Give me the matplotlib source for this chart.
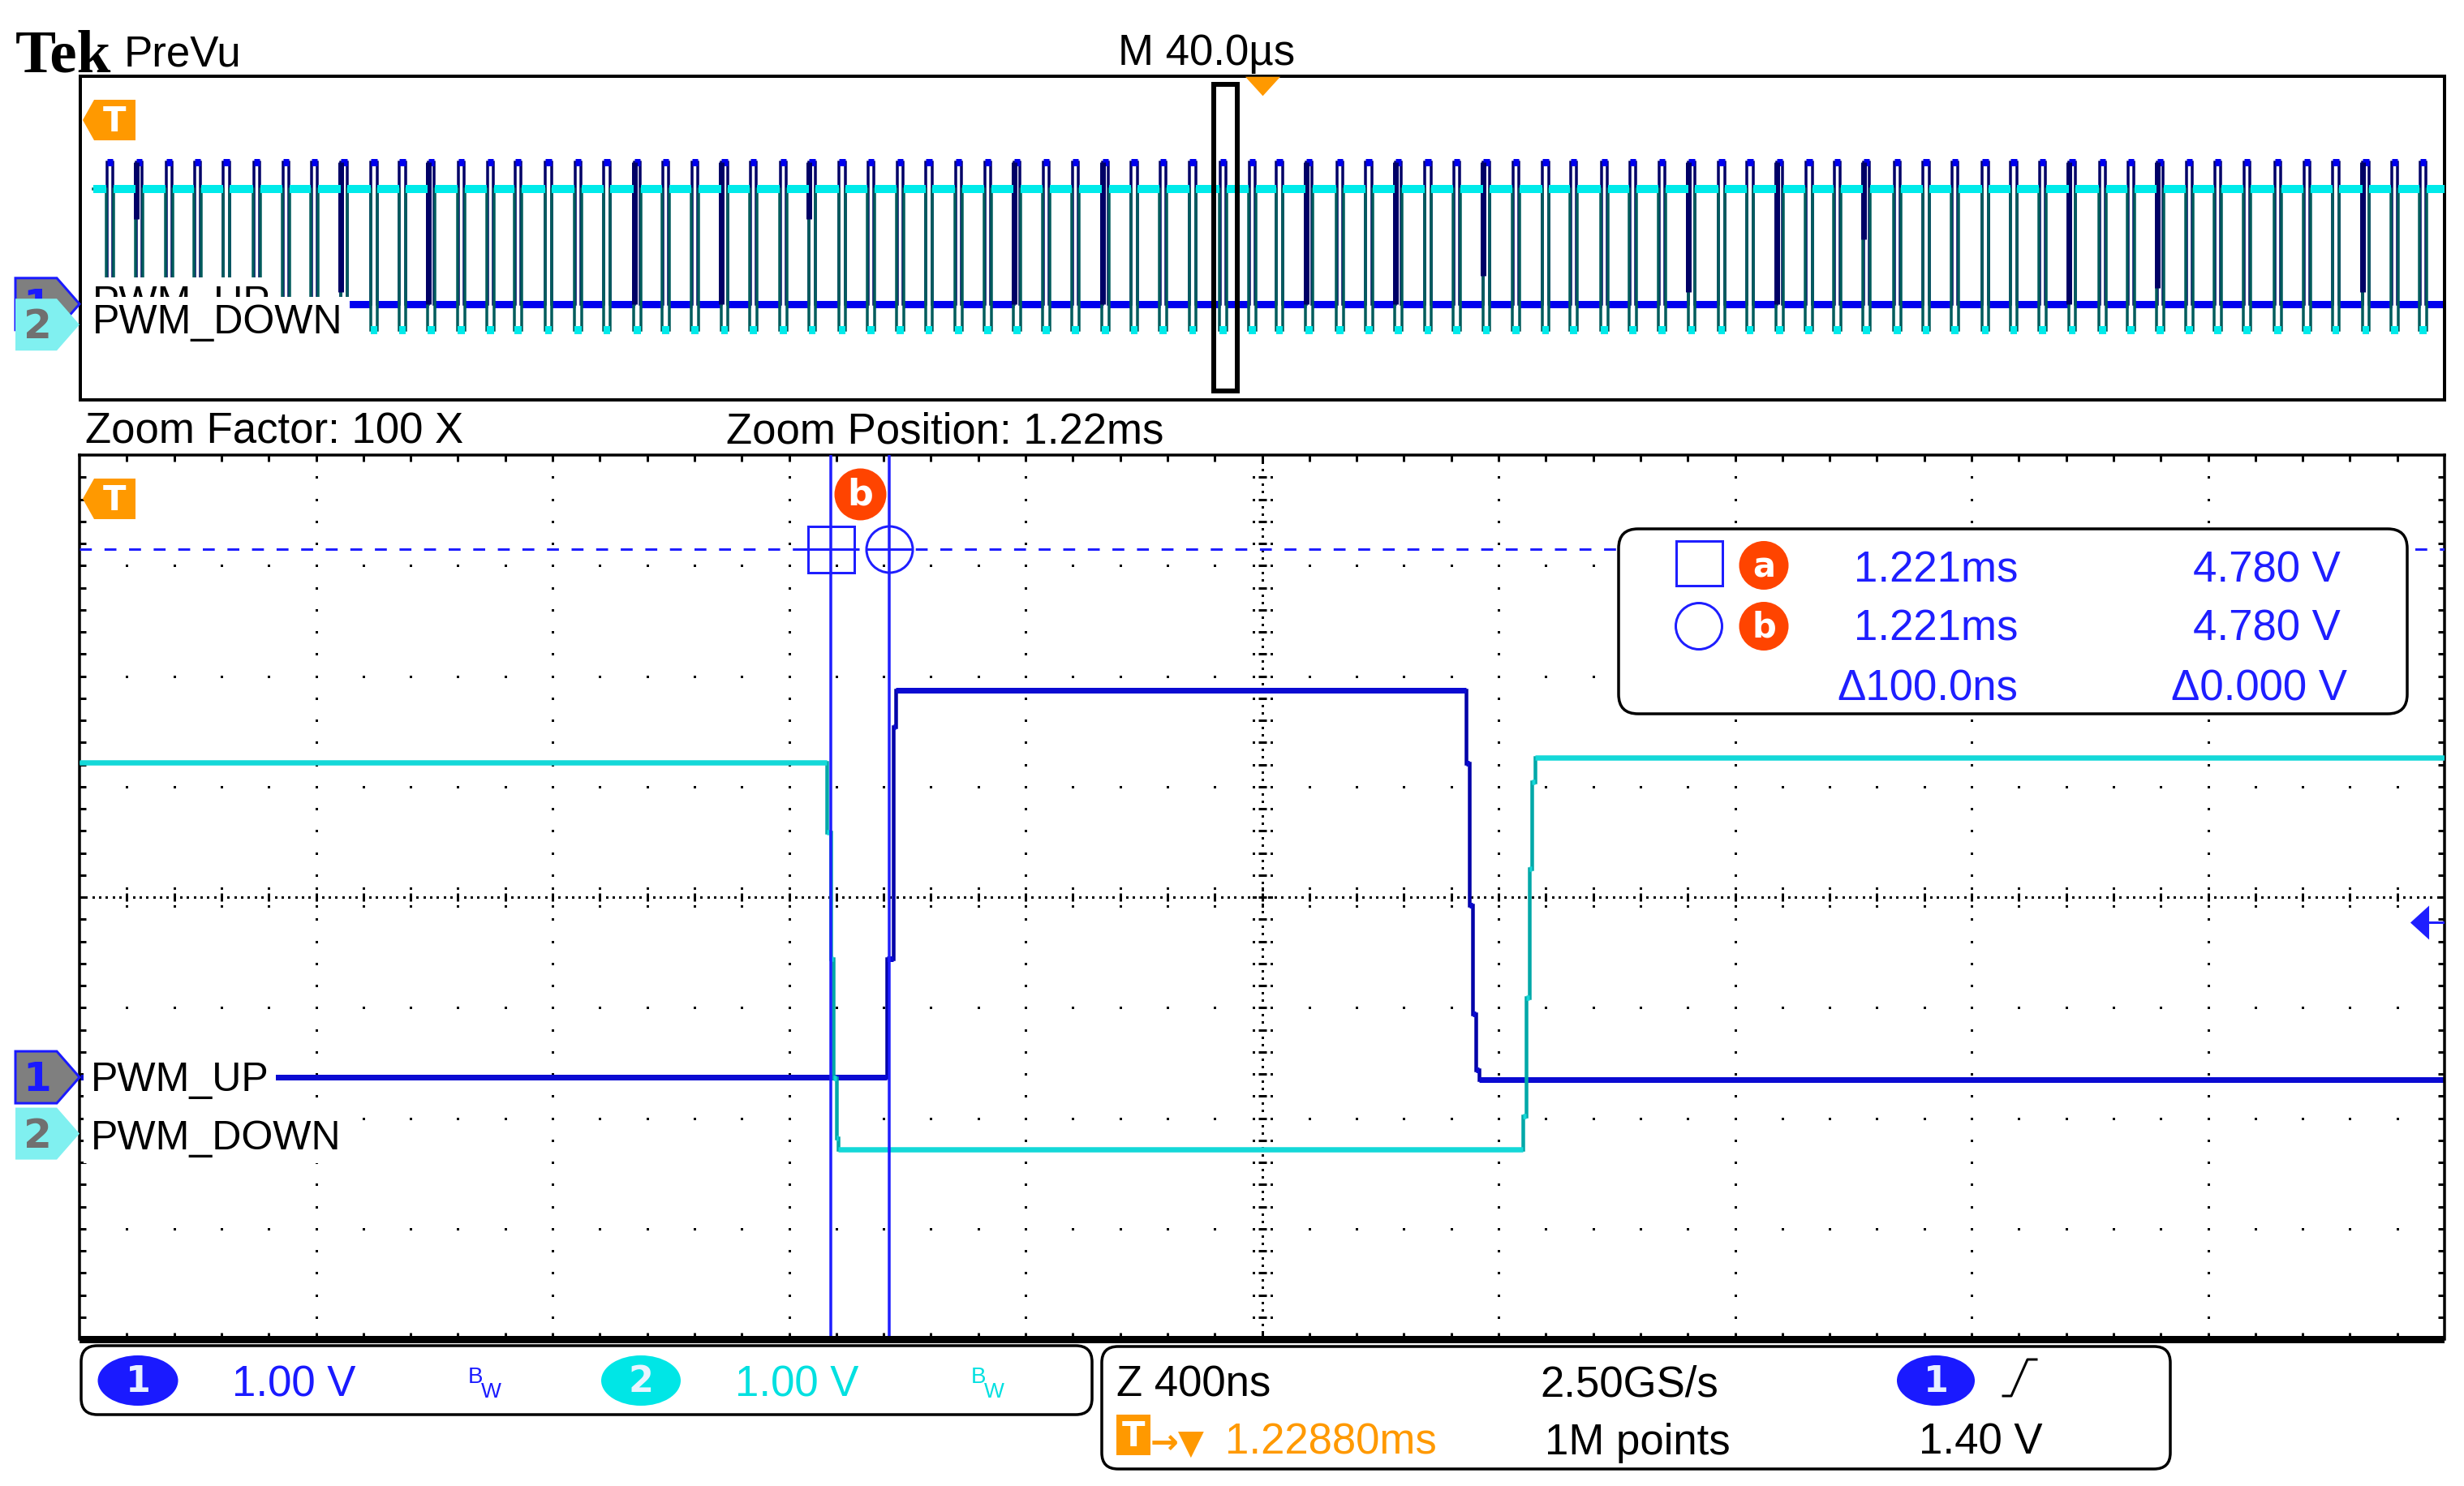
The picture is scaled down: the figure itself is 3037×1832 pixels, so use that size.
import numpy as np
import matplotlib
matplotlib.use("Agg")
import matplotlib.pyplot as plt
import matplotlib.transforms as mtransforms
from matplotlib.patches import Polygon, Rectangle, Ellipse, FancyBboxPatch
from matplotlib.collections import LineCollection

# ---------------- values ----------------
# zoom window (Z 400ns/div): time in ns from left edge, level in volts
UP_T = [0, 1365, 1365, 1376, 1376, 1380, 1380, 2345, 2345, 2351, 2351,
        2356, 2356, 2362, 2362, 2367, 2367, 4000]
UP_V = [0.0, 0.0, 1.07, 1.07, 3.17, 3.17, 3.50, 3.50, 2.84, 2.84, 1.56,
        1.56, 0.57, 0.57, 0.07, 0.07, -0.02, -0.02]
DOWN_T = [0, 1264, 1264, 1270, 1270, 1275, 1275, 1280, 1280, 1283, 1283,
          2441, 2441, 2447, 2447, 2452, 2452, 2456, 2456, 2462, 2462, 4000]
DOWN_V = [3.36, 3.36, 2.73, 2.73, 1.58, 1.58, 0.50, 0.50, -0.04, -0.04, -0.14,
          -0.14, 0.16, 0.16, 1.23, 1.23, 2.40, 2.40, 3.18, 3.18, 3.40, 3.40]

UP_GND = 2.37      # ground marker position, divisions from bottom
DOWN_GND = 1.86
CURSOR_T = [1270, 1370]   # ns
CURSOR_V = 4.78           # V on ch1
TRIG_LEVEL = 1.40         # V on ch1

# overview record (M 40.0us/div): pulse centres in us
PULSES_US = [5.0, 10.0, 15.0, 19.8, 24.7, 29.9, 34.8, 39.6, 44.6, 49.7,
             54.5, 59.4, 64.4, 69.4, 74.1, 79.2, 84.2, 89.1, 94.2, 99.0,
             104.0, 109.0, 113.9, 118.9, 123.8, 128.9, 133.8, 138.7, 143.6, 148.6,
             153.5, 158.5, 163.4, 168.4, 173.4, 178.3, 183.2, 188.2, 193.3, 198.3,
             202.9, 207.9, 213.1, 218.0, 223.0, 228.0, 232.9, 237.9, 242.9, 247.9,
             252.6, 257.9, 262.7, 267.6, 272.6, 277.7, 282.5, 287.5, 292.5, 297.3,
             302.2, 307.4, 312.3, 317.2, 322.3, 327.1, 332.0, 337.0, 342.1, 346.9,
             351.9, 356.8, 361.6, 366.6, 371.8, 376.7, 381.6, 386.7, 391.6, 396.4]
UP_EDGES = (-0.5, 0.5)        # us around pulse centre
DOWN_EDGES = (-0.6, 0.6)
UP_LEVELS = (0.0, 3.5)        # idle, pulse
DOWN_LEVELS = (3.36, -0.14)
OV_START, OV_END = 2.2, 400.0
# dark persistence streaks under some pulses (pulse index, lowest level in V)
STREAK_IDX = [1, 8, 11, 18, 21, 24, 31, 34, 41, 44, 47, 54, 57, 60, 67, 70, 77]
STREAK_END = [2.1, 0.3, 0.0, 0.0, 0.0, 2.1, 0.0, 0.0, 0.0, 0.0, 0.7, 0.3,
              0.0, 1.6, 0.0, 0.4, 0.3]
ZOOM_START_US, ZOOM_WIDTH_US = 191.8, 4.0
TRIG_POS_US = 200.0

READOUT = [("1.221ms", "4.780 V"), ("1.221ms", "4.780 V"), ("Δ100.0ns", "Δ0.000 V")]

# ---------------- style ----------------
W, H, DPI = 3037, 1833, 100
PX = 72 / DPI
FS = 38
FS_LABEL = 36

CH1, CH1_DARK = "#0a0ad2", "#0000a8"
CH2, CH2_DARK = "#14d8d8", "#00a8a8"
OV1, OV1_DARK = "#0000ee", "#000066"
OV2, OV2_DARK = "#00eaea", "#005c5c"
CURSOR = "#1e1eff"
CH1_TXT, CH2_TXT = "#1a1aff", "#00e0e0"
ORANGE = "#ff9900"
RED = "#ff4400"

plt.rcParams['font.family'] = ['Liberation Sans', 'DejaVu Sans']

MAIN_L, MAIN_T, MAIN_R, MAIN_B = 98, 562, 3013, 1652
OV_L, OV_T, OV_R, OV_B = 99, 95, 3013, 494

fig = plt.figure(figsize=(W / DPI, H / DPI), dpi=DPI)
fig.patch.set_facecolor("white")


def px_axes(l, t, r, b, **kw):
    return fig.add_axes([l / W, 1 - b / H, (r - l) / W, (b - t) / H], **kw)


def main_y(div):
    return MAIN_B - div * (MAIN_B - MAIN_T) / 8


def ov_y(div):
    return OV_B - div * (OV_B - OV_T) / 8


def draw_trace(ax, t, v, gnd, bright, dark, lw_b, lw_d, z):
    t = np.asarray(t, float)
    y = np.asarray(v, float) + gnd
    ax.plot(t, y, color=dark, lw=lw_d * PX, zorder=z, solid_joinstyle="miter")
    flat = [[(t[i], y[i]), (t[i + 1], y[i + 1])] for i in range(len(t) - 1)
            if y[i] == y[i + 1] and t[i + 1] > t[i]]
    ax.add_collection(LineCollection(flat, colors=bright, linewidths=lw_b * PX,
                                     capstyle="butt", zorder=z + 0.1))


def pulse_train(centres, edges, levels):
    idle, pulse = levels
    t, v = [OV_START], [idle]
    for c in centres:
        t += [c + edges[0], c + edges[0], c + edges[1], c + edges[1]]
        v += [idle, pulse, pulse, idle]
    t.append(OV_END)
    v.append(idle)
    return t, v


def graticule(ax, nx=10, ny=8, sub=5):
    tr = ax.transAxes
    pxx, pxy = 1 / (MAIN_R - MAIN_L), 1 / (MAIN_B - MAIN_T)
    dx, dy = [], []
    for i in range(1, nx):
        if i != nx // 2:
            for k in range(1, ny * sub):
                dx.append(i / nx)
                dy.append(k / (ny * sub))
    for j in range(1, ny):
        if j != ny // 2:
            for k in range(1, nx * sub):
                dx.append(k / (nx * sub))
                dy.append(j / ny)
    for k in range(nx * sub * 7):
        dx.append(k / (nx * sub * 7))
        dy.append(0.5)
    for k in range(ny * sub * 3):
        dx.append(0.5)
        dy.append(k / (ny * sub * 3))
    segs = []
    for k in range(1, nx * sub):
        x = k / (nx * sub)
        segs.append([(x, 0.5 - 5 * pxy), (x, 0.5 + 5 * pxy)])
        dx += [x, x]
        dy += [0.5 - 11 * pxy, 0.5 + 11 * pxy]
        segs.append([(x, 0), (x, 8 * pxy)])
        segs.append([(x, 1), (x, 1 - 8 * pxy)])
    for k in range(1, ny * sub):
        y = k / (ny * sub)
        segs.append([(0.5 - 5 * pxx, y), (0.5 + 5 * pxx, y)])
        dx += [0.5 - 11 * pxx, 0.5 + 11 * pxx]
        dy += [y, y]
        segs.append([(0, y), (8 * pxx, y)])
        segs.append([(1, y), (1 - 8 * pxx, y)])
    ax.scatter(dx, dy, s=(3 * PX) ** 2, marker="s", c="k", linewidths=0,
               transform=tr, zorder=1)
    ax.add_collection(LineCollection(segs, colors="k", linewidths=3 * PX,
                                     transform=tr, zorder=1), autolim=False)


def bare(ax, lw):
    ax.set_xticks([])
    ax.set_yticks([])
    for s in ax.spines.values():
        s.set_linewidth(lw * PX)
        s.set_color("black")


# ---------------- overview window ----------------
ov = px_axes(OV_L, OV_T, OV_R, OV_B)
ov.set_xlim(0, 400)
ov.set_ylim(0, 8)
bare(ov, 4)

t1, v1 = pulse_train(PULSES_US, UP_EDGES, UP_LEVELS)
t2, v2 = pulse_train(PULSES_US, DOWN_EDGES, DOWN_LEVELS)
draw_trace(ov, t1, v1, UP_GND, OV1, OV1_DARK, 9, 3.5, 2)
draw_trace(ov, t2, v2, DOWN_GND, OV2, OV2_DARK, 10, 3.5, 3)
sx = [PULSES_US[i] + UP_EDGES[0] for i in STREAK_IDX]
ov.vlines(sx, [e + UP_GND for e in STREAK_END], UP_LEVELS[1] + UP_GND,
          colors=OV1_DARK, linewidths=7 * PX, zorder=3.05)

blend_ov = mtransforms.blended_transform_factory(ov.transData, ov.transAxes)
ov.add_patch(Rectangle((ZOOM_START_US, 0.028), ZOOM_WIDTH_US, 0.947,
                       transform=blend_ov, fill=False, ec="black",
                       lw=6 * PX, zorder=6))
ov.plot([TRIG_POS_US], [0.971], transform=blend_ov, ls="none",
        marker=[(-1, 0.55), (1, 0.55), (0, -0.55)], ms=43 * PX,
        color=ORANGE, mec="none", zorder=7, clip_on=False)

# ---------------- zoomed window ----------------
ax = px_axes(MAIN_L, MAIN_T, MAIN_R, MAIN_B)
ax.set_xlim(0, 4000)
ax.set_ylim(0, 8)
bare(ax, 3.5)
ax.spines["bottom"].set_visible(False)
graticule(ax)

draw_trace(ax, UP_T, UP_V, UP_GND, CH1, CH1_DARK, 7, 4.5, 2)
draw_trace(ax, DOWN_T, DOWN_V, DOWN_GND, CH2, CH2_DARK, 6.5, 4.5, 3)

cy = CURSOR_V + UP_GND
for ct in CURSOR_T:
    ax.axvline(ct, color=CURSOR, lw=3.5 * PX, zorder=5)
ax.axhline(cy, color=CURSOR, lw=3 * PX, ls=(0, (4.9, 5.2)), zorder=5)
ax.plot([CURSOR_T[0]], [cy], marker="s", ms=57 * PX, mfc="none",
        mec=CURSOR, mew=3 * PX, zorder=6)
ax.plot([CURSOR_T[0]], [cy], marker="_", ms=70 * PX, mec=CURSOR,
        mew=3 * PX, zorder=6)
ax.plot([CURSOR_T[1]], [cy], marker="o", ms=57 * PX, mfc="none",
        mec=CURSOR, mew=3 * PX, zorder=6)
ax.plot([CURSOR_T[1]], [cy], marker="_", ms=57 * PX, mec=CURSOR,
        mew=3 * PX, zorder=6)
bx, by = np.mean(CURSOR_T), cy + 0.5
ax.scatter([bx], [by], s=(64 * PX) ** 2, c=RED, linewidths=0, zorder=7)
ax.text(bx, by, "b", color="white", fontsize=32, fontweight="bold",
        family="DejaVu Sans", ha="center", va="center", zorder=8)

blend_ax = mtransforms.blended_transform_factory(ax.transAxes, ax.transData)
ty = TRIG_LEVEL + UP_GND
ax.plot([0.9892], [ty], transform=blend_ax, ls="none",
        marker=[(-0.55, 0), (0.55, 1), (0.55, -1)], ms=42 * PX,
        color=CURSOR, mec="none", zorder=6)
ax.plot([0.9925, 1.0], [ty, ty], transform=blend_ax, color=CURSOR,
        lw=3 * PX, zorder=6)

# ---------------- overlay: labels, markers, readouts ----------------
top = fig.add_axes([0, 0, 1, 1], zorder=10)
top.set_xlim(0, W)
top.set_ylim(H, 0)
top.axis("off")
top.patch.set_alpha(0)


def txt(x, y, s, color="black", size=FS, **kw):
    return top.text(x, y, s, color=color, fontsize=size, va="baseline",
                    ha=kw.pop("ha", "left"), **kw)


def ch_marker(yc, num, fill, edge, tcol, z):
    pts = [(19, yc - 32), (70, yc - 32), (98, yc), (70, yc + 32), (19, yc + 32)]
    top.add_patch(Polygon(pts, closed=True, fc=fill,
                          ec=edge if edge else "none", lw=3 * PX, zorder=z))
    top.text(46, yc + 2, num, color=tcol, fontsize=36, fontweight="bold",
             family="DejaVu Sans", ha="center", va="center", zorder=z + 0.5)


def trig_marker(yc):
    pts = [(102, yc), (116, yc - 25), (167, yc - 25), (167, yc + 25), (116, yc + 25)]
    top.add_patch(Polygon(pts, closed=True, fc=ORANGE, ec="none", zorder=4))
    top.text(141, yc + 1, "T", color="white", fontsize=30, fontweight="bold",
             family="DejaVu Sans", ha="center", va="center", zorder=5)


def badge(x, y, w, h, num, fill, tcol, size=32):
    top.add_patch(Ellipse((x, y), w, h, fc=fill, ec="none", zorder=4))
    top.text(x, y + 1, num, color=tcol, fontsize=size, fontweight="bold",
             family="DejaVu Sans", ha="center", va="center", zorder=5)


def bw_tag(x, color):
    # "B" with a subscript "W" (bandwidth limit tag)
    txt(x, 1705, "B", color=color, size=20, zorder=5)
    txt(x + 16, 1723, "W", color=color, size=19, zorder=5)


white_box = dict(fc="white", ec="none", pad=6)

# header
txt(19, 88, "Tek", size=54, family="Liberation Serif", fontweight="bold")
txt(153, 81, "PreVu")
txt(1378, 80, "M 40.0µs")
txt(105, 546, "Zoom Factor: 100 X")
txt(895, 546, "Zoom Position: 1.22ms")

# overview channel labels
g1, g2 = ov_y(UP_GND), ov_y(DOWN_GND)
txt(114, g1 + 12, "PWM_UP", size=FS_LABEL, bbox=white_box, zorder=2)
txt(114, g2 + 10, "PWM_DOWN", size=FS_LABEL, bbox=white_box, zorder=3)
ch_marker(g1, "1", "#7f7f7f", CH1_TXT, CH1_TXT, 4)
ch_marker(g2, "2", "#80f0f0", None, "#707070", 6)
trig_marker(149)

# zoom-window channel labels
m1, m2 = main_y(UP_GND), main_y(DOWN_GND)
txt(112, m1 + 16, "PWM_UP", size=FS_LABEL, bbox=white_box, zorder=2)
txt(112, m2 + 18, "PWM_DOWN", size=FS_LABEL, bbox=white_box, zorder=3)
ch_marker(m1, "1", "#7f7f7f", CH1_TXT, CH1_TXT, 4)
ch_marker(m2, "2", "#80f0f0", None, "#707070", 6)
trig_marker(616)

# thick bar under the graticule
top.add_patch(Rectangle((MAIN_L, 1648), MAIN_R - MAIN_L, 9, fc="black", ec="none"))

# cursor readout box
top.add_patch(FancyBboxPatch((1995, 653), 972, 228,
                             boxstyle="round,pad=0,rounding_size=24",
                             fc="white", ec="black", lw=3.5 * PX, zorder=3))
top.add_patch(Rectangle((2066, 668), 57, 55, fill=False, ec=CURSOR,
                        lw=3 * PX, zorder=4))
top.add_patch(Ellipse((2094, 773), 57, 57, fill=False, ec=CURSOR,
                      lw=3 * PX, zorder=4))
badge(2174, 698, 61, 60, "a", RED, "white", 30)
badge(2174, 773, 61, 60, "b", RED, "white", 30)
for (tv, vv), base, xt, xv in zip(READOUT, [717, 790, 863],
                                  [2285, 2285, 2264], [2703, 2703, 2676]):
    txt(xt, base, tv, color=CURSOR, zorder=5)
    txt(xv, base, vv, color=CURSOR, zorder=5)

# channel settings box
top.add_patch(FancyBboxPatch((100, 1660), 1246, 85,
                             boxstyle="round,pad=0,rounding_size=20",
                             fc="white", ec="black", lw=3.5 * PX, zorder=3))
badge(170, 1703, 99, 62, "1", CH1_TXT, "#e8f0ff")
txt(286, 1722, "1.00 V", color=CH1_TXT, zorder=5)
bw_tag(577, CH1_TXT)
badge(790, 1703, 98, 62, "2", "#00e6e6", "#e8f4ff")
txt(906, 1722, "1.00 V", color=CH2_TXT, zorder=5)
bw_tag(1197, CH2_TXT)

# timebase / trigger box
top.add_patch(FancyBboxPatch((1358, 1661), 1317, 151,
                             boxstyle="round,pad=0,rounding_size=20",
                             fc="white", ec="black", lw=3.5 * PX, zorder=3))
txt(1376, 1722, "Z 400ns", zorder=5)
txt(1898, 1722, "2.50GS/s", zorder=5)
badge(2386, 1703, 96, 62, "1", CH1_TXT, "#e8f0ff")
top.plot([2469, 2479, 2499, 2510], [1722, 1722, 1677, 1677], color="black",
         lw=3 * PX, zorder=5)
top.add_patch(Rectangle((1376, 1745), 42, 50, fc=ORANGE, ec="none", zorder=4))
top.text(1397, 1771, "T", color="white", fontsize=30, fontweight="bold",
         family="DejaVu Sans", ha="center", va="center", zorder=5)
txt(1418, 1793, "→▼", color=ORANGE, family="DejaVu Sans", fontweight="bold",
    size=30, zorder=5)
txt(1510, 1793, "1.22880ms", color=ORANGE, zorder=5)
txt(1904, 1793, "1M points", zorder=5)
txt(2365, 1793, "1.40 V", zorder=5)

fig.savefig("out.png", dpi=DPI, facecolor="white")
